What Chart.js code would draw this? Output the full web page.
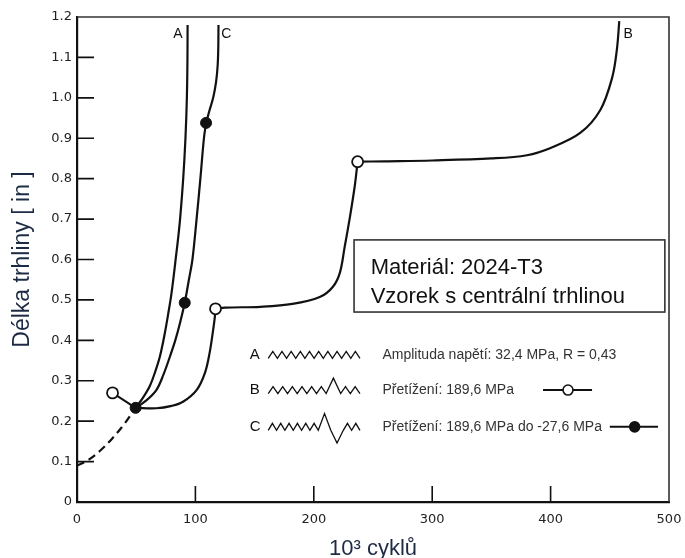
<!DOCTYPE html>
<html>
<head>
<meta charset="utf-8">
<script src="https://cdn.jsdelivr.net/npm/chart.js@4/dist/chart.umd.min.js"></script>
<style>
  body { margin: 0; background: #fff; }
  #crackchart { display: block; }
</style>
</head>
<body>
<canvas id="crackchart" width="685" height="558"></canvas>
<script>
// x = 10^3 cycles, y = crack length [in]
const startX = [0, 10, 20, 30, 40, 49.5];
const startY = [0.09, 0.105, 0.128, 0.158, 0.193, 0.233];

const curveAX = [49.5, 55.5, 61.5, 66, 70, 74, 77, 79.5, 81.5, 83.5, 85.5, 87.2, 89.7, 91.6, 92.8, 93.3, 93.4];
const curveAY = [0.233, 0.257, 0.287, 0.322, 0.36, 0.415, 0.465, 0.51, 0.555, 0.605, 0.655, 0.705, 0.8, 0.9, 1.0, 1.1, 1.18];

// B is split at the overload markers (kinks)
const curveB1X = [49.5, 67, 80, 89.5, 101, 108, 112, 115, 116.5, 117];
const curveB1Y = [0.233, 0.232, 0.238, 0.248, 0.277, 0.319, 0.369, 0.426, 0.46, 0.478];
const curveB2X = [117, 125, 155, 182, 205, 216, 222, 226, 230.5, 234.5, 237];
const curveB2Y = [0.478, 0.481, 0.483, 0.49, 0.507, 0.532, 0.567, 0.63, 0.705, 0.78, 0.842];
const curveB3X = [237, 260, 300, 350, 380, 400, 425, 442, 452, 456, 458];
const curveB3Y = [0.842, 0.843, 0.845, 0.85, 0.858, 0.876, 0.913, 0.97, 1.05, 1.12, 1.19];

// C is split at the upper overload marker
const curveC1X = [49.5, 58, 67, 73, 78.5, 83, 87, 91, 94.5, 97.5, 101, 104.2, 107.2, 109];
const curveC1Y = [0.233, 0.25, 0.277, 0.315, 0.36, 0.4, 0.443, 0.493, 0.55, 0.6, 0.7, 0.8, 0.9, 0.938];
const curveC2X = [109, 112, 115, 117.5, 118.8, 119.3, 119.5];
const curveC2Y = [0.938, 0.97, 1.0, 1.04, 1.08, 1.12, 1.18];

// overload marker on B before the common point
const overloadLinkX = [30, 49.5];
const overloadLinkY = [0.27, 0.233];

const openX = [30, 117, 237];
const openY = [0.27, 0.478, 0.842];
const filledX = [49.5, 91, 109];
const filledY = [0.233, 0.493, 0.938];

const xTicks = [0, 100, 200, 300, 400, 500];
const yTicks = [0, 0.1, 0.2, 0.3, 0.4, 0.5, 0.6, 0.7, 0.8, 0.9, 1.0, 1.1, 1.2];

const curveNames = ["A", "B", "C"];
const boxLines = ["Materiál: 2024-T3", "Vzorek s centrální trhlinou"];
const legendTexts = [
  "Amplituda napětí: 32,4 MPa, R = 0,43",
  "Přetížení: 189,6 MPa",
  "Přetížení: 189,6 MPa do -27,6 MPa"
];
// loading pattern per row: tooth heights (negative = downward)
const zigA = [1, 1, 1, 1, 1, 1, 1, 1, 1, 1];
const zigB = [1, 1, 1, 1, 1, 1, 2.2, 1, 1];
const zigC = [1, 1, 1, 1, 1, 1, 2.4, -1.8, 1, 1];

const pts = (xs, ys) => xs.map((x, i) => ({ x: x, y: ys[i] }));
const ink = "#111";

// where the annotations sit, in data units
const place = {
  labels: [{ x: 85.3, y: 1.158 }, { x: 465.5, y: 1.158 }, { x: 126, y: 1.158 }],
  box: { x0: 234, x1: 496.5, y0: 0.6485, y1: 0.47, textX: 248, lineY: [0.579, 0.507] },
  legend: { letterX: 146, zigX0: 161.5, zigX1: 239, textX: 258, rowY: [0.364, 0.277, 0.186] },
  markB: { x0: 393.6, x1: 435, c: 414.7 },
  markC: { x0: 450, x1: 490.7, c: 471 }
};

const lineStyle = {
  showLine: true,
  borderColor: ink,
  borderWidth: 2.2,
  pointRadius: 0,
  fill: false,
  tension: 0.35,
  order: 2
};

const decorations = {
  id: "decorations",
  afterDatasetsDraw(chart) {
    const { ctx, chartArea: a, scales } = chart;
    const px = (v) => scales.x.getPixelForValue(v);
    const py = (v) => scales.y.getPixelForValue(v);
    ctx.save();

    // frame top and right
    ctx.strokeStyle = "#333";
    ctx.lineWidth = 1.6;
    ctx.beginPath();
    ctx.moveTo(a.left, a.top);
    ctx.lineTo(a.right, a.top);
    ctx.lineTo(a.right, a.bottom);
    ctx.stroke();

    // inward ticks
    ctx.strokeStyle = ink;
    ctx.lineWidth = 1.6;
    ctx.beginPath();
    yTicks.slice(1, -1).forEach((v) => {
      ctx.moveTo(a.left, py(v));
      ctx.lineTo(a.left + 17, py(v));
    });
    xTicks.slice(1, -1).forEach((v) => {
      ctx.moveTo(px(v), a.bottom);
      ctx.lineTo(px(v), a.bottom - 16);
    });
    ctx.stroke();

    // curve names
    ctx.fillStyle = ink;
    ctx.font = "14px 'Liberation Sans', Arial, sans-serif";
    ctx.textBaseline = "middle";
    ctx.textAlign = "center";
    curveNames.forEach((n, i) => {
      ctx.fillText(n, px(place.labels[i].x), py(place.labels[i].y));
    });

    // material box
    const b = place.box;
    ctx.fillStyle = "#fff";
    ctx.fillRect(px(b.x0), py(b.y0), px(b.x1) - px(b.x0), py(b.y1) - py(b.y0));
    ctx.strokeStyle = "#333";
    ctx.lineWidth = 1.6;
    ctx.strokeRect(px(b.x0), py(b.y0), px(b.x1) - px(b.x0), py(b.y1) - py(b.y0));
    ctx.fillStyle = ink;
    ctx.textAlign = "left";
    ctx.font = "22px 'Liberation Sans', Arial, sans-serif";
    boxLines.forEach((t, i) => ctx.fillText(t, px(b.textX), py(b.lineY[i])));

    // legend rows
    const L = place.legend;
    const zigs = [zigA, zigB, zigC];
    L.rowY.forEach((yv, i) => {
      const y = py(yv);
      ctx.fillStyle = ink;
      ctx.font = "15px 'Liberation Sans', Arial, sans-serif";
      ctx.fillText(curveNames[i], px(L.letterX), y);
      ctx.fillStyle = "#333";
      ctx.font = "14px 'Liberation Sans', Arial, sans-serif";
      ctx.fillText(legendTexts[i], px(L.textX), y);

      const teeth = zigs[i];
      const weights = teeth.map((v) => (Math.abs(v) > 1.5 ? 1.5 : 1));
      const total = weights.reduce((s, w) => s + w, 0);
      const x0 = px(L.zigX0), x1 = px(L.zigX1);
      const base = y + 3.5, amp = 7;
      let x = x0;
      ctx.strokeStyle = ink;
      ctx.lineWidth = 1.3;
      ctx.beginPath();
      ctx.moveTo(x, base);
      teeth.forEach((v, k) => {
        const w = (x1 - x0) * weights[k] / total;
        ctx.lineTo(x + w / 2, base - v * amp);
        ctx.lineTo(x + w, base);
        x += w;
      });
      ctx.stroke();
    });

    // legend markers
    const drawMark = (m, yv, filled) => {
      const y = py(yv);
      ctx.strokeStyle = ink;
      ctx.lineWidth = 2;
      ctx.beginPath();
      ctx.moveTo(px(m.x0), y);
      ctx.lineTo(px(m.x1), y);
      ctx.stroke();
      ctx.beginPath();
      ctx.arc(px(m.c), y, 5, 0, Math.PI * 2);
      ctx.fillStyle = filled ? ink : "#fff";
      ctx.fill();
      ctx.lineWidth = 1.6;
      ctx.stroke();
    };
    drawMark(place.markB, L.rowY[1], false);
    drawMark(place.markC, L.rowY[2], true);

    ctx.restore();
  }
};

const ctx = document.getElementById("crackchart").getContext("2d");

new Chart(ctx, {
  type: "scatter",
  data: {
    datasets: [
      { ...lineStyle, data: pts(startX, startY), borderDash: [8, 5] },
      { ...lineStyle, data: pts(curveAX, curveAY) },
      { ...lineStyle, data: pts(curveB1X, curveB1Y) },
      { ...lineStyle, data: pts(curveB2X, curveB2Y) },
      { ...lineStyle, data: pts(curveB3X, curveB3Y) },
      { ...lineStyle, data: pts(curveC1X, curveC1Y) },
      { ...lineStyle, data: pts(curveC2X, curveC2Y) },
      { ...lineStyle, data: pts(overloadLinkX, overloadLinkY), tension: 0, borderWidth: 2 },
      {
        data: pts(openX, openY),
        showLine: false,
        pointRadius: 5.5,
        pointBackgroundColor: "#fff",
        pointBorderColor: ink,
        pointBorderWidth: 1.8,
        order: 0
      },
      {
        data: pts(filledX, filledY),
        showLine: false,
        pointRadius: 5.5,
        pointBackgroundColor: ink,
        pointBorderColor: ink,
        pointBorderWidth: 1,
        order: 0
      }
    ]
  },
  options: {
    responsive: false,
    animation: false,
    devicePixelRatio: 1,
    layout: {
      padding: { left: 0, right: 16, top: 17, bottom: 0 }
    },
    scales: {
      x: {
        type: "linear",
        min: 0,
        max: 500,
        afterBuildTicks: (scale) => { scale.ticks = xTicks.map((v) => ({ value: v })); },
        afterFit: (scale) => {
          scale.height = 56;
          scale.paddingLeft = 0;
          scale.paddingRight = 0;
        },
        grid: { display: false, drawTicks: false },
        border: { display: true, color: ink, width: 2.2 },
        ticks: {
          padding: 10,
          color: "#222",
          font: { family: "'DejaVu Sans', sans-serif", size: 13 },
          callback: (v) => String(v)
        },
        title: {
          display: true,
          text: "10³ cyklů",
          color: "#1d2b45",
          font: { family: "'Liberation Sans', Arial, sans-serif", size: 22 },
          padding: { top: 0, bottom: -4 }
        }
      },
      y: {
        type: "linear",
        min: 0,
        max: 1.2,
        afterBuildTicks: (scale) => { scale.ticks = yTicks.map((v) => ({ value: v })); },
        afterFit: (scale) => {
          scale.width = 77;
          scale.paddingTop = 0;
          scale.paddingBottom = 0;
        },
        grid: { display: false, drawTicks: false },
        border: { display: true, color: ink, width: 2.2 },
        ticks: {
          padding: 5,
          color: "#222",
          font: { family: "'DejaVu Sans', sans-serif", size: 13 },
          callback: (v) => (v === 0 ? "0" : v.toFixed(1))
        },
        title: {
          display: true,
          text: "Délka trhliny [ in ]",
          color: "#1d2b45",
          font: { family: "'Liberation Sans', Arial, sans-serif", size: 23 },
          padding: { top: 9, bottom: 0 }
        }
      }
    },
    plugins: {
      legend: { display: false },
      tooltip: { enabled: false }
    }
  },
  plugins: [decorations]
});
</script>
</body>
</html>
